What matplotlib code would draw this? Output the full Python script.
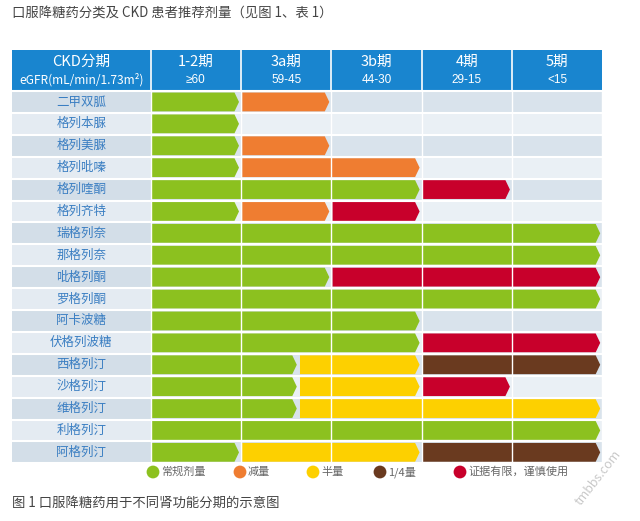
import matplotlib.pyplot as plt
from matplotlib.patches import Polygon, Rectangle

plt.rcParams['font.family'] = ['Noto Sans CJK SC', 'DejaVu Sans']

# ---- data ----
stages = ['1-2期', '3a期', '3b期', '4期', '5期']
egfr = ['≥60', '59-45', '44-30', '29-15', '<15']
drugs = ['二甲双胍', '格列本脲', '格列美脲', '格列吡嗪', '格列喹酮', '格列齐特',
         '瑞格列奈', '那格列奈', '吡格列酮', '罗格列酮', '阿卡波糖', '伏格列波糖',
         '西格列汀', '沙格列汀', '维格列汀', '利格列汀', '阿格列汀']
# (start stage, end stage, dose kind) for every drug
segments = [
    [(0, 1, 'full'), (1, 2, 'reduced')],
    [(0, 1, 'full')],
    [(0, 1, 'full'), (1, 2, 'reduced')],
    [(0, 1, 'full'), (1, 3, 'reduced')],
    [(0, 3, 'full'), (3, 4, 'limited')],
    [(0, 1, 'full'), (1, 2, 'reduced'), (2, 3, 'limited')],
    [(0, 5, 'full')],
    [(0, 5, 'full')],
    [(0, 2, 'full'), (2, 5, 'limited')],
    [(0, 5, 'full')],
    [(0, 3, 'full')],
    [(0, 3, 'full'), (3, 5, 'limited')],
    [(0, 1.64, 'full'), (1.64, 3, 'half'), (3, 5, 'quarter')],
    [(0, 1.64, 'full'), (1.64, 3, 'half'), (3, 4, 'limited')],
    [(0, 1.64, 'full'), (1.64, 5, 'half')],
    [(0, 5, 'full')],
    [(0, 1, 'full'), (1, 3, 'half'), (3, 5, 'quarter')],
]
kinds = ['full', 'reduced', 'half', 'quarter', 'limited']
kind_labels = ['常规剂量', '减量', '半量', '1/4量', '证据有限，谨慎使用']
kind_colors = ['#8CC11F', '#EF7D31', '#FDD000', '#6A3A1F', '#C8002B']

# ---- layout (pixel geometry of the picture) ----
col_px, x0_px = 90.3, 150.7
row_px, y0_px = 21.9, 91.0
label_left = (12 - x0_px) / col_px
head_top = (50 - y0_px) / row_px

fig = plt.figure(figsize=(6.4, 5.21), dpi=100)
ax = fig.add_axes([0, 0, 1, 1])
ax.set_xlim(-x0_px / col_px, (640 - x0_px) / col_px)
ax.set_ylim((521 - y0_px) / row_px, -y0_px / row_px)
ax.axis('off')

n = len(drugs)
ncol = len(stages)

# header
ax.add_patch(Rectangle((label_left, head_top), ncol - label_left, -head_top,
                       facecolor='#1985CF', edgecolor='none'))
for c in range(ncol):
    ax.plot([c, c], [head_top, 0], color='white', lw=1.2)
    ax.text(c + 0.5, (62 - y0_px) / row_px, stages[c], ha='center', va='center',
            color='white', fontsize=10.5)
    ax.text(c + 0.5, (80 - y0_px) / row_px, egfr[c], ha='center', va='center',
            color='white', fontsize=8.5, family=['Liberation Sans', 'DejaVu Sans'])
ax.text(label_left / 2, (62 - y0_px) / row_px, 'CKD分期', ha='center', va='center',
        color='white', fontsize=10.5)
ax.text(label_left / 2, (80 - y0_px) / row_px, 'eGFR(mL/min/1.73m²)', ha='center',
        va='center', color='white', fontsize=8.6)

# row backgrounds
for i in range(n):
    bg = '#D9E3EC' if i % 2 == 0 else '#EAF0F5'
    lab_bg = '#D3DEE8' if i % 2 == 0 else '#E4EBF2'
    ax.add_patch(Rectangle((0, i), ncol, 1, facecolor=bg, edgecolor='none'))
    ax.add_patch(Rectangle((label_left, i), -label_left, 1, facecolor=lab_bg,
                           edgecolor='none'))
    ax.text(label_left / 2, i + 0.5, drugs[i], ha='center', va='center',
            color='#3A7EC2', fontsize=9)
for i in range(n + 1):
    ax.plot([label_left, ncol], [i, i], color='white', lw=1.5)
for c in range(ncol + 1):
    ax.plot([c, c], [0, n], color='white', lw=1.0)

# chevron bars
gap = 1.2 / col_px
tip = 4.5 / col_px
end_pad = 2.0 / col_px
for i, segs in enumerate(segments):
    top, bot = i + 0.07, i + 0.93
    for a, b, k in segs:
        xa = a + gap
        xb = b - end_pad
        pts = [(xa, top), (xb - tip, top), (xb, i + 0.5), (xb - tip, bot), (xa, bot)]
        ax.add_patch(Polygon(pts, closed=True, facecolor=kind_colors[kinds.index(k)],
                             edgecolor='none'))

# legend
leg_y = (472 - y0_px) / row_px
leg_x = [153, 240, 313, 380, 460]
for px, lab, col in zip(leg_x, kind_labels, kind_colors):
    xd = (px - x0_px) / col_px
    ax.scatter([xd], [leg_y], s=85, color=col, edgecolors='none', zorder=5)
    ax.text(xd + 8 / col_px, leg_y, lab, ha='left', va='center', color='#666666',
            fontsize=8)

# titles
ax.text(label_left, (13 - y0_px) / row_px, '口服降糖药分类及 CKD 患者推荐剂量（见图 1、表 1）',
        ha='left', va='center', color='#444444', fontsize=9.6)
ax.text(label_left, (503 - y0_px) / row_px, '图 1 口服降糖药用于不同肾功能分期的示意图',
        ha='left', va='center', color='#444444', fontsize=9.6)

# watermark
ax.text((598 - x0_px) / col_px, (478 - y0_px) / row_px, 'tmbbs.com', rotation=52,
        ha='center', va='center', color='#BBBBBB', fontsize=9, alpha=0.8)

fig.savefig('out.png', dpi=100)
